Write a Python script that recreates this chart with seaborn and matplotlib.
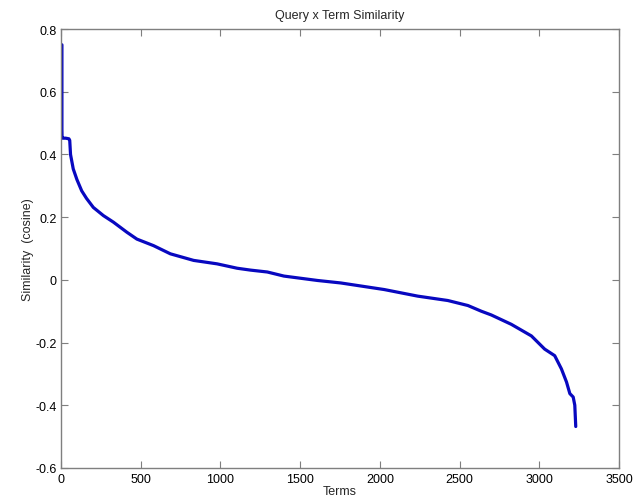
import matplotlib
matplotlib.use("Agg")
import matplotlib.pyplot as plt
import seaborn as sns
import pandas as pd

# Term rank (sorted by similarity) and cosine similarity to the query
terms = [6, 6, 6, 7, 10, 30, 50, 55, 60, 77, 100, 130, 160, 203, 266, 329,
         413, 476, 581, 686, 832, 979, 1105, 1189, 1294, 1398, 1608, 1755,
         2027, 2237, 2426, 2552, 2635, 2698, 2824, 2950, 3033, 3096, 3138,
         3170, 3191, 3212, 3222, 3228]
similarity = [0.75, 0.57, 0.48, 0.455, 0.452, 0.452, 0.45, 0.445, 0.40,
              0.354, 0.32, 0.284, 0.26, 0.231, 0.205, 0.184, 0.152, 0.130,
              0.109, 0.083, 0.062, 0.051, 0.037, 0.031, 0.025, 0.012,
              -0.002, -0.010, -0.031, -0.052, -0.066, -0.082, -0.10, -0.112,
              -0.142, -0.179, -0.221, -0.242, -0.284, -0.326, -0.363, -0.374,
              -0.40, -0.468]

x_ticks = [0, 500, 1000, 1500, 2000, 2500, 3000, 3500]
y_ticks = [-0.6, -0.4, -0.2, 0, 0.2, 0.4, 0.6, 0.8]
y_tick_labels = ["-0.6", "-0.4", "-0.2", "0", "0.2", "0.4", "0.6", "0.8"]

df = pd.DataFrame({"Terms": terms, "Similarity": similarity})

sns.set_style("white")
plt.rcParams["font.family"] = ["Liberation Sans", "DejaVu Sans"]

fig = plt.figure(figsize=(6.35, 5.02), dpi=100)
ax = fig.add_axes([0.096, 0.066, 0.879, 0.874])

sns.lineplot(data=df, x="Terms", y="Similarity", ax=ax, color="#0808c0",
             linewidth=2.3, estimator=None, sort=False)

ax.set_xlim(0, 3500)
ax.set_ylim(-0.6, 0.8)
ax.set_xticks(x_ticks)
ax.set_xticklabels([str(t) for t in x_ticks])
ax.set_yticks(y_ticks)
ax.set_yticklabels(y_tick_labels)

ax.tick_params(direction="in", length=5, width=0.8, colors="#7f7f7f",
               labelcolor="black", labelsize=9, top=True, right=True,
               bottom=True, left=True, pad=3)
ax.tick_params(axis="x", pad=4)
for side in ax.spines.values():
    side.set_color("#7f7f7f")
    side.set_linewidth(1.0)

ax.set_title("Query x Term Similarity", fontsize=9, pad=8)
ax.set_xlabel("Terms", fontsize=9, labelpad=0)
ax.set_ylabel("Similarity  (cosine)", fontsize=9, labelpad=1)

fig.savefig("out.png", dpi=100)
